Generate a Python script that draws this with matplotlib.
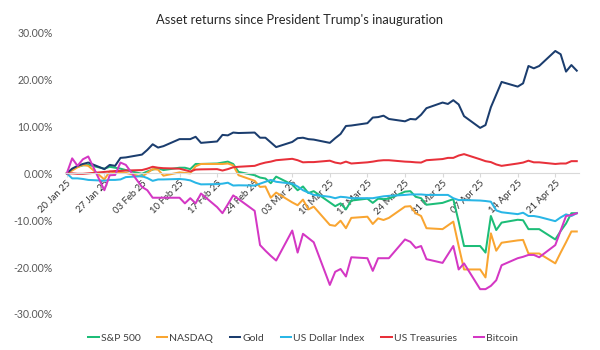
import matplotlib
matplotlib.use("Agg")
import matplotlib.pyplot as plt
import matplotlib.dates as mdates
import pandas as pd

plt.rcParams['font.family'] = ['Lato', 'DejaVu Sans']

dates = pd.bdate_range('2025-01-20', '2025-04-25')

sp500 = [0, 0.9, 1.4, 1.7, 1.8,
         1.0, 1.4, 1.2, 1.0, 0.7,
         -0.1, 0.4, 0.8, 1.1, 0.7,
         1.2, 1.2, 0.9, 2.0, 2.0,
         2.1, 2.3, 2.5, 2.0, 0.3,
         -0.4, -0.9, -1.1, -2.1, -0.7,
         -2.4, -3.6, -2.8, -4.2, -3.8,
         -6.2, -7.0, -6.4, -7.7, -5.8,
         -5.4, -6.3, -5.4, -5.5, -5.4,
         -3.9, -3.8, -5.0, -5.3, -6.7,
         -6.3, -5.9, -5.5, -10.3, -15.5,
         -15.5, -16.9, -9.1, -12.1, -10.5,
         -9.9, -10.0, -11.9, -11.9, -11.9,
         -14.1, -12.3, -10.7, -8.5, -8.5]

nasdaq = [0, 0.6, 1.3, 1.8, 1.6,
          -1.3, 0.4, 0.2, 0.2, 0.1,
          -0.7, 0.1, 0.9, 0.8, -0.5,
          0.2, 0.1, 0.0, 1.5, 2.0,
          2.0, 2.0, 2.1, 1.7, -0.4,
          -1.6, -2.9, -2.8, -5.2, -4.1,
          -6.2, -6.8, -5.6, -7.7, -7.1,
          -11.0, -11.2, -10.1, -11.7, -9.5,
          -9.25, -10.8, -9.6, -9.95, -9.5,
          -7.1, -7.0, -8.5, -9.1, -11.7,
          -11.9, -11.1, -10.3, -15.5, -20.5,
          -20.5, -22.2, -12.8, -16.5, -14.8,
          -14.3, -14.2, -17.1, -17.1, -17.1,
          -19.2, -16.9, -14.7, -12.4, -12.4]

gold = [0, 1.0, 1.6, 2.0, 2.3,
        0.9, 1.8, 1.6, 3.3, 3.4,
        4.0, 5.0, 6.2, 5.5, 5.8,
        7.3, 7.3, 7.3, 7.8, 6.5,
        6.8, 8.2, 8.1, 8.7, 8.6,
        8.7, 7.6, 7.6, 6.6, 5.6,
        6.7, 7.5, 7.6, 7.3, 7.2,
        6.5, 7.5, 8.4, 10.1, 10.2,
        10.7, 11.9, 12.0, 12.3, 11.6,
        11.1, 11.6, 11.5, 12.5, 13.9,
        15.1, 14.8, 15.6, 14.7, 12.2,
        9.7, 10.3, 14.1, 16.8, 19.5,
        18.5, 19.2, 22.9, 22.4, 22.9,
        26.1, 25.4, 21.7, 23.1, 21.9]

usd_index = [0, -1.07, -1.07, -1.2, -1.4,
             -1.57, -1.4, -1.4, -1.3, -0.8,
             -0.6, -1.0, -1.6, -1.3, -1.3,
             -1.2, -1.3, -1.5, -2.0, -2.35,
             -2.3, -2.2, -2.0, -2.6, -2.55,
             -2.6, -2.2, -1.8, -1.4, -1.8,
             -2.2, -2.8, -3.6, -4.1, -4.6,
             -5.0, -5.3, -5.0, -5.1, -5.3,
             -5.3, -5.3, -5.1, -4.9, -4.8,
             -4.6, -4.5, -4.5, -4.5, -4.6,
             -4.6, -4.6, -5.3, -5.7, -5.7,
             -5.8, -5.9, -6.05, -7.9, -8.3,
             -8.7, -8.4, -9.1, -9.1, -9.3,
             -10.2, -9.4, -8.75, -9.1, -8.5]

treasuries = [0, 0.0, -0.1, -0.1, 0.0,
              0.3, 0.4, 0.5, 0.5, 0.6,
              0.7, 1.0, 1.4, 1.2, 1.1,
              1.0, 0.7, 0.4, 0.8, 0.85,
              0.9, 0.6, 0.9, 1.3, 1.4,
              1.6, 2.0, 2.3, 2.5, 2.8,
              3.1, 2.8, 2.35, 2.4, 2.4,
              2.7, 2.3, 2.1, 2.5, 2.1,
              2.35, 2.5, 2.7, 2.8, 2.8,
              2.5, 2.45, 2.35, 2.3, 2.8,
              3.05, 3.3, 3.3, 3.8, 4.1,
              3.0, 2.6, 2.4, 1.9, 1.6,
              2.1, 2.3, 2.7, 2.35, 2.35,
              2.0, 2.1, 2.1, 2.6, 2.6]

bitcoin = [0, 3.2, 1.6, 3.0, 3.6,
           -3.6, -0.4, -0.35, 2.3, 1.8,
           -2.9, -3.6, -5.2, -5.2, -5.2,
           -5.2, -6.4, -5.3, -6.4, -4.3,
           -7.2, -8.5, -6.6, -4.7, -5.5,
           -8.0, -15.3, -16.5, -17.6, -18.6,
           -12.2, -16.9, -12.9, -13.8, -14.7,
           -23.8, -21.0, -20.4, -22.0, -17.9,
           -18.1, -20.8, -18.1, -18.1, -18.1,
           -14.1, -14.6, -15.9, -15.5, -18.3,
           -19.1, -17.3, -15.5, -20.5, -19.2,
           -24.7, -24.7, -24.0, -22.8, -19.6,
           -18.1, -17.8, -17.4, -17.4, -17.9,
           -15.3, -12.2, -9.1, -8.9, -8.5]

series_names = ['S&P 500', 'NASDAQ', 'Gold', 'US Dollar Index', 'US Treasuries', 'Bitcoin']
series_values = [sp500, nasdaq, gold, usd_index, treasuries, bitcoin]
colors = ['#1dbd78', '#f9a531', '#1b3d6e', '#29b6e6', '#e8303a', '#d437c4']
yticks = [-30, -20, -10, 0, 10, 20, 30]

fig = plt.figure(figsize=(6, 3.5), dpi=100)
ax = fig.add_axes([65/600, 1-314/350, (579-65)/600, (314-32.7)/350])

for name, vals, c in zip(series_names, series_values, colors):
    ax.plot(dates, vals, color=c, lw=1.45, label=name, solid_joinstyle='round')

ax.set_ylim(-30, 30)
ax.set_xlim(pd.Timestamp('2025-01-20') - pd.Timedelta(hours=8),
            pd.Timestamp('2025-04-25') + pd.Timedelta(hours=10))
ax.set_yticks(yticks)
ax.set_yticklabels([f'{v:.2f}%' for v in yticks])
ax.tick_params(axis='y', length=0, pad=9, labelsize=7.6, labelcolor='#595959')

for s in ['top', 'right', 'left']:
    ax.spines[s].set_visible(False)
ax.spines['bottom'].set_position(('data', 0))
ax.spines['bottom'].set_color('#d9d9d9')
ax.spines['bottom'].set_linewidth(0.8)

ax.xaxis.set_major_locator(mdates.WeekdayLocator(byweekday=mdates.MO))
ax.xaxis.set_major_formatter(mdates.DateFormatter('%d %b %y'))
ax.tick_params(axis='x', direction='out', length=3, color='#d9d9d9',
               labelsize=6.9, labelcolor='#333333', pad=1)
for lbl in ax.get_xticklabels():
    lbl.set_rotation(45)
    lbl.set_ha('right')
    lbl.set_va('top')
    lbl.set_rotation_mode('anchor')

fig.text(0.5, 1 - 20/350, "Asset returns since President Trump's inauguration",
         ha='center', va='center', fontsize=9.3, color='#262626')

fig.legend(loc='center', bbox_to_anchor=(0.505, 1 - 338/350), ncol=6, frameon=False,
           fontsize=7.5, handlelength=1.0, handletextpad=0.2, columnspacing=1.6,
           labelcolor='#404040')

fig.savefig('out.png', dpi=100)
